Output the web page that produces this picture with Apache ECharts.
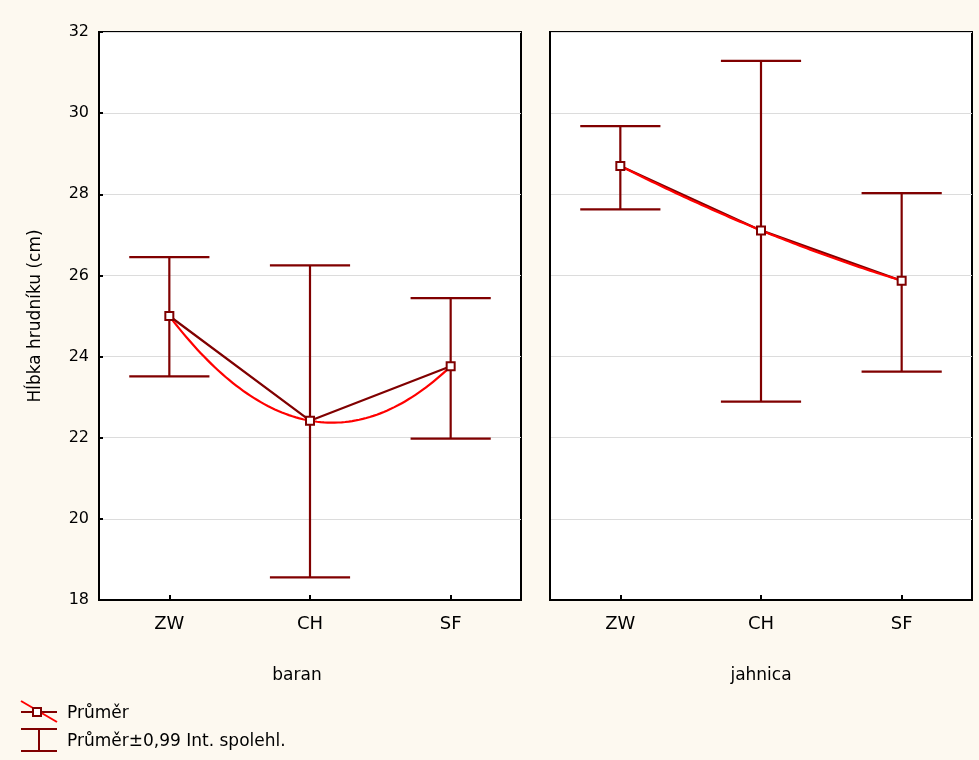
<!DOCTYPE html>
<html>
<head>
<meta charset="utf-8">
<script src="https://cdn.jsdelivr.net/npm/echarts@6/dist/echarts.min.js"></script>
<style>
html,body{margin:0;padding:0;background:#fdf9f0;}
#chart{width:979px;height:760px;}
</style>
</head>
<body>
<div id="chart"></div>
<script>
// ---- data ----
var categories = ['ZW', 'CH', 'SF'];
var panelNames = ['baran', 'jahnica'];
var yTicks = [18, 20, 22, 24, 26, 28, 30, 32];
var baranMean = [25.00, 22.42, 23.76];
var baranLow  = [23.51, 18.56, 21.98];
var baranHigh = [26.45, 26.25, 25.44];
var jahnicaMean = [28.70, 27.11, 25.87];
var jahnicaLow  = [27.63, 22.89, 23.63];
var jahnicaHigh = [29.68, 31.29, 28.03];
var yTitle = 'Hĺbka hrudníku (cm)';
var legendMean = 'Průměr';
var legendCI = 'Průměr±0,99 Int. spolehl.';

// ---- styling ----
var FONT = '"DejaVu Sans", "Liberation Sans", Arial, sans-serif';
var DARK = '#800000';
var RED = '#ff0000';

var chart = echarts.init(document.getElementById('chart'), null, {renderer: 'canvas'});

function errData(low, high) {
  return categories.map(function (c, i) { return [i, low[i], high[i]]; });
}
function meanData(mean) {
  return categories.map(function (c, i) { return [i, mean[i]]; });
}
function errRender(params, api) {
  var x = api.value(0);
  var lo = api.coord([x, api.value(1)]);
  var hi = api.coord([x, api.value(2)]);
  var hw = api.size([1, 0])[0] * 0.285;
  var st = {stroke: DARK, lineWidth: 2.2};
  return {type: 'group', children: [
    {type: 'line', shape: {x1: lo[0], y1: lo[1], x2: hi[0], y2: hi[1]}, style: st},
    {type: 'line', shape: {x1: hi[0] - hw, y1: hi[1], x2: hi[0] + hw, y2: hi[1]}, style: st},
    {type: 'line', shape: {x1: lo[0] - hw, y1: lo[1], x2: lo[0] + hw, y2: lo[1]}, style: st}
  ]};
}
// quadratic fit through the three means, drawn through the axis scales
function curveRender(mean) {
  return function (params, api) {
    var x0 = api.coord([0, mean[0]])[0];
    var x1 = api.coord([1, mean[0]])[0];
    var pts = [];
    for (var k = 0; k <= 80; k++) {
      var t = k / 40;
      var y = mean[0] * (t - 1) * (t - 2) / 2 - mean[1] * t * (t - 2) + mean[2] * t * (t - 1) / 2;
      pts.push([x0 + t * (x1 - x0), api.coord([0, y])[1]]);
    }
    return {type: 'polyline', shape: {points: pts}, style: {stroke: RED, lineWidth: 2.2, fill: null}};
  };
}

var grids = [
  {left: 99, top: 32, width: 422, height: 568},
  {left: 550, top: 32, width: 422, height: 568}
];
grids.forEach(function (g) {
  g.show = true; g.backgroundColor = '#ffffff'; g.borderColor = '#000'; g.borderWidth = 2;
});

function xAxis(idx, name, pad) {
  return {
    type: 'category', gridIndex: idx, data: categories, boundaryGap: true,
    name: name, nameLocation: 'middle', nameGap: 67,
    nameTextStyle: {fontFamily: FONT, fontSize: 17, color: '#000', padding: pad},
    axisLine: {show: true, lineStyle: {color: '#000', width: 2}},
    axisTick: {show: true, inside: true, alignWithLabel: true, length: 5, lineStyle: {color: '#000', width: 2}},
    axisLabel: {fontFamily: FONT, fontSize: 18, color: '#000', margin: 15},
    splitLine: {show: false}
  };
}
function yAxis(idx, showLabels) {
  return {
    type: 'value', gridIndex: idx, min: yTicks[0], max: yTicks[yTicks.length - 1], interval: 2,
    name: showLabels ? yTitle : '', nameLocation: 'middle', nameGap: 55,
    nameTextStyle: {fontFamily: FONT, fontSize: 17, color: '#000'},
    axisLine: {show: true, lineStyle: {color: '#000', width: 2}},
    axisTick: {show: showLabels, inside: true, length: 4, lineStyle: {color: '#000', width: 2}},
    axisLabel: {show: showLabels, fontFamily: FONT, fontSize: 16, color: '#000', margin: 10},
    splitLine: {show: true, lineStyle: {color: '#dcdcdc', width: 1}}
  };
}

var panels = [
  {mean: baranMean, low: baranLow, high: baranHigh},
  {mean: jahnicaMean, low: jahnicaLow, high: jahnicaHigh}
];
var series = [];
panels.forEach(function (p, i) {
  series.push({type: 'custom', xAxisIndex: i, yAxisIndex: i, data: errData(p.low, p.high),
    encode: {x: 0, y: [1, 2]}, renderItem: errRender, z: 2, silent: true});
  series.push({type: 'line', xAxisIndex: i, yAxisIndex: i, data: meanData(p.mean), showSymbol: false,
    lineStyle: {color: DARK, width: 2.2}, itemStyle: {color: DARK}, z: 3, silent: true});
  series.push({type: 'custom', xAxisIndex: i, yAxisIndex: i, data: [[0, p.mean[0]]],
    encode: {x: 0, y: 1}, renderItem: curveRender(p.mean), z: 4, silent: true});
  series.push({type: 'scatter', xAxisIndex: i, yAxisIndex: i, data: meanData(p.mean), symbol: 'rect', symbolSize: 8,
    itemStyle: {color: '#ffffff', borderColor: DARK, borderWidth: 2, opacity: 1}, z: 5, silent: true});
});

var legendGraphic = [
  {type: 'line', shape: {x1: 21, y1: 712, x2: 57, y2: 712}, style: {stroke: DARK, lineWidth: 2}},
  {type: 'line', shape: {x1: 21, y1: 701, x2: 57, y2: 722}, style: {stroke: RED, lineWidth: 2}},
  {type: 'rect', shape: {x: 33, y: 708, width: 8, height: 8}, style: {fill: '#fff', stroke: DARK, lineWidth: 2}},
  {type: 'text', left: 67, top: 705, style: {text: legendMean, font: '17px ' + FONT, fill: '#000'}},
  {type: 'line', shape: {x1: 21, y1: 729, x2: 57, y2: 729}, style: {stroke: DARK, lineWidth: 2}},
  {type: 'line', shape: {x1: 39, y1: 729, x2: 39, y2: 751}, style: {stroke: DARK, lineWidth: 2}},
  {type: 'line', shape: {x1: 21, y1: 751, x2: 57, y2: 751}, style: {stroke: DARK, lineWidth: 2}},
  {type: 'text', left: 67, top: 733, style: {text: legendCI, font: '17px ' + FONT, fill: '#000'}}
];

chart.setOption({
  backgroundColor: '#fdf9f0',
  animation: false,
  textStyle: {fontFamily: FONT},
  grid: grids,
  xAxis: [xAxis(0, panelNames[0], [0, 26, 0, 0]), xAxis(1, panelNames[1], [0, 0, 0, 0])],
  yAxis: [yAxis(0, true), yAxis(1, false)],
  series: series,
  graphic: legendGraphic
});
</script>
</body>
</html>
